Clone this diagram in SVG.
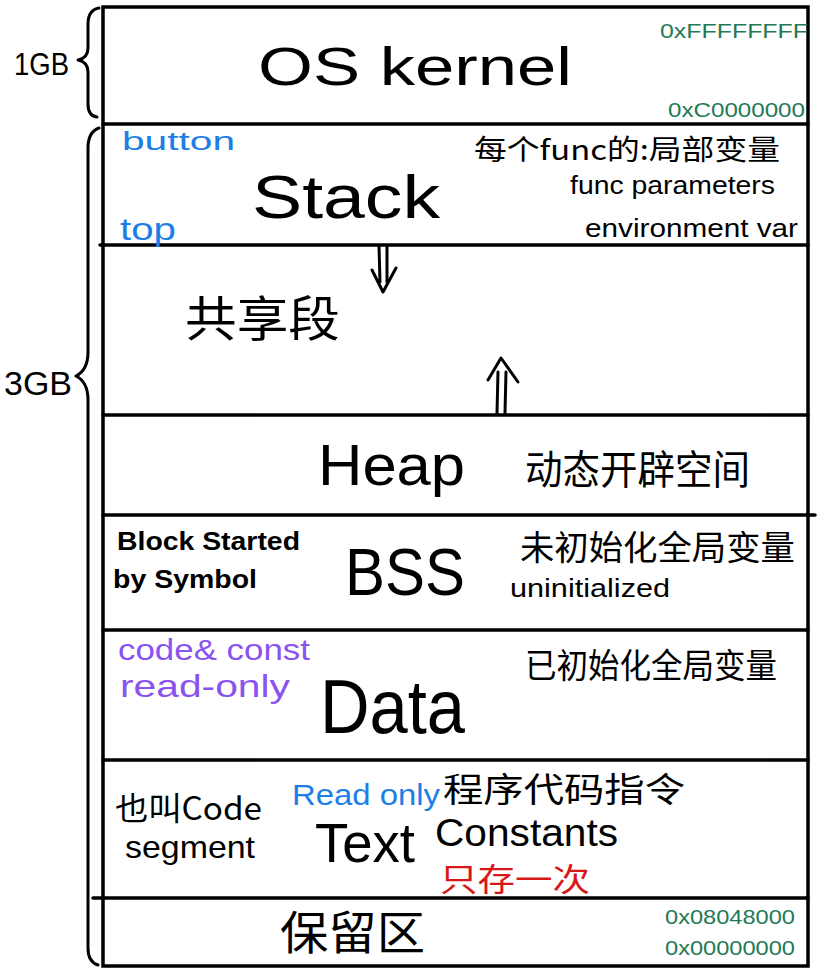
<svg xmlns="http://www.w3.org/2000/svg" width="821" height="975" viewBox="0 0 821 975">
<style>
text{font-family:"Liberation Sans","Noto Sans CJK SC",sans-serif;fill:#000}
.cjk{font-family:"Noto Sans CJK SC","Liberation Sans",sans-serif}
.big{font-size:62px}
.sm{font-size:26px}
.grn{fill:#1f7a55;font-size:20px}
.blu{fill:#1c7ee6}
.pur{fill:#8a52ee}
.red{fill:#d81818}
.ln{stroke:#000;stroke-width:3.5;fill:none;stroke-linecap:round}
.br{stroke:#000;stroke-width:3;fill:none;stroke-linecap:round;stroke-linejoin:round}
</style>
<rect width="821" height="975" fill="#fff"/>
<g id="frame">
<rect x="103" y="7" width="705" height="959" class="ln"/>
<line x1="103" y1="124" x2="808" y2="124" class="ln"/>
<line x1="100" y1="245" x2="808" y2="245" class="ln"/>
<line x1="103" y1="415" x2="808" y2="415" class="ln"/>
<line x1="103" y1="515" x2="815" y2="515" class="ln"/>
<line x1="103" y1="630" x2="808" y2="630" class="ln"/>
<line x1="103" y1="760" x2="808" y2="760" class="ln"/>
<line x1="93" y1="898" x2="808" y2="898" class="ln"/>
</g>
<g id="size-1GB">
<path class="br" d="M99 8 Q88 10 88 24 L88 48 Q88 58 78 60 Q88 62 88 72 L88 104 Q88 116 97 117"/>
<text x="14" y="75" font-size="32" textLength="55" lengthAdjust="spacingAndGlyphs">1GB</text>
</g>
<g id="size-3GB">
<path class="br" d="M99 128 Q88 132 88 148 L88 352 Q88 370 76 376 Q88 382 88 400 L88 948 Q88 962 98 965"/>
<text x="4" y="395" font-size="34" textLength="68" lengthAdjust="spacingAndGlyphs">3GB</text>
</g>
<g id="os-kernel">
<text x="258" y="85" font-size="54" textLength="314" lengthAdjust="spacingAndGlyphs">OS  kernel</text>
<text x="660" y="38" class="grn" textLength="148" lengthAdjust="spacingAndGlyphs">0xFFFFFFFF</text>
<text x="668" y="117" class="grn" textLength="137" lengthAdjust="spacingAndGlyphs">0xC0000000</text>
</g>
<g id="stack">
<text x="122" y="150" font-size="26" class="blu" textLength="113" lengthAdjust="spacingAndGlyphs">button</text>
<text x="120" y="240" font-size="32" class="blu" textLength="56" lengthAdjust="spacingAndGlyphs">top</text>
<text x="252" y="218" class="big" textLength="188" lengthAdjust="spacingAndGlyphs">Stack</text>
<text x="474" y="160" font-size="28" class="cjk" textLength="306" lengthAdjust="spacingAndGlyphs">每个func的:局部变量</text>
<text x="570" y="194" class="sm" textLength="205" lengthAdjust="spacingAndGlyphs">func parameters</text>
<text x="585" y="237" class="sm" textLength="213" lengthAdjust="spacingAndGlyphs">environment var</text>
</g>
<g id="shared">
<text x="185" y="336" font-size="48" class="cjk" textLength="155" lengthAdjust="spacingAndGlyphs">共享段</text>
</g>
<g id="heap">
<text x="318" y="485" font-size="58" textLength="147" lengthAdjust="spacingAndGlyphs">Heap</text>
<text x="525" y="484" font-size="40" class="cjk" textLength="225" lengthAdjust="spacingAndGlyphs">动态开辟空间</text>
</g>
<g id="bss">
<text x="117" y="550" class="sm" font-weight="bold" textLength="183" lengthAdjust="spacingAndGlyphs">Block Started</text>
<text x="113" y="588" class="sm" font-weight="bold" textLength="144" lengthAdjust="spacingAndGlyphs">by Symbol</text>
<text x="345" y="595" font-size="66" textLength="120" lengthAdjust="spacingAndGlyphs">BSS</text>
<text x="520" y="560" font-size="34" class="cjk" textLength="275" lengthAdjust="spacingAndGlyphs">未初始化全局变量</text>
<text x="510" y="597" class="sm" textLength="160" lengthAdjust="spacingAndGlyphs">uninitialized</text>
</g>
<g id="data">
<text x="118" y="660" font-size="30" class="pur" textLength="192" lengthAdjust="spacingAndGlyphs">code&amp; const</text>
<text x="120" y="697" font-size="32" class="pur" textLength="170" lengthAdjust="spacingAndGlyphs">read-only</text>
<text x="320" y="733" font-size="76" textLength="145" lengthAdjust="spacingAndGlyphs">Data</text>
<text x="525" y="678" font-size="34" class="cjk" textLength="252" lengthAdjust="spacingAndGlyphs">已初始化全局变量</text>
</g>
<g id="text-seg">
<text x="115" y="820" font-size="32" class="cjk" textLength="147" lengthAdjust="spacingAndGlyphs">也叫Code</text>
<text x="125" y="858" font-size="32" textLength="130" lengthAdjust="spacingAndGlyphs">segment</text>
<text x="292" y="805" font-size="30" class="blu" textLength="148" lengthAdjust="spacingAndGlyphs">Read only</text>
<text x="443" y="802" font-size="34" class="cjk" textLength="242" lengthAdjust="spacingAndGlyphs">程序代码指令</text>
<text x="315" y="862" font-size="56" textLength="100" lengthAdjust="spacingAndGlyphs">Text</text>
<text x="435" y="846" font-size="38" textLength="183" lengthAdjust="spacingAndGlyphs">Constants</text>
<text x="440" y="891" font-size="32" class="cjk red" textLength="150" lengthAdjust="spacingAndGlyphs">只存一次</text>
</g>
<g id="reserved">
<text x="280" y="949" font-size="46" class="cjk" textLength="145" lengthAdjust="spacingAndGlyphs">保留区</text>
<text x="665" y="924" class="grn" textLength="130" lengthAdjust="spacingAndGlyphs">0x08048000</text>
<text x="665" y="955" class="grn" textLength="130" lengthAdjust="spacingAndGlyphs">0x00000000</text>
</g>
<g id="connectors">
<path class="br" d="M379 246 L380 282 M387 246 L387 282 M372 270 L383 292 L396 268"/>
<path class="br" d="M497 413 L498 372 M505 413 L506 372 M488 380 L501 358 L518 382"/>
</g>
</svg>
